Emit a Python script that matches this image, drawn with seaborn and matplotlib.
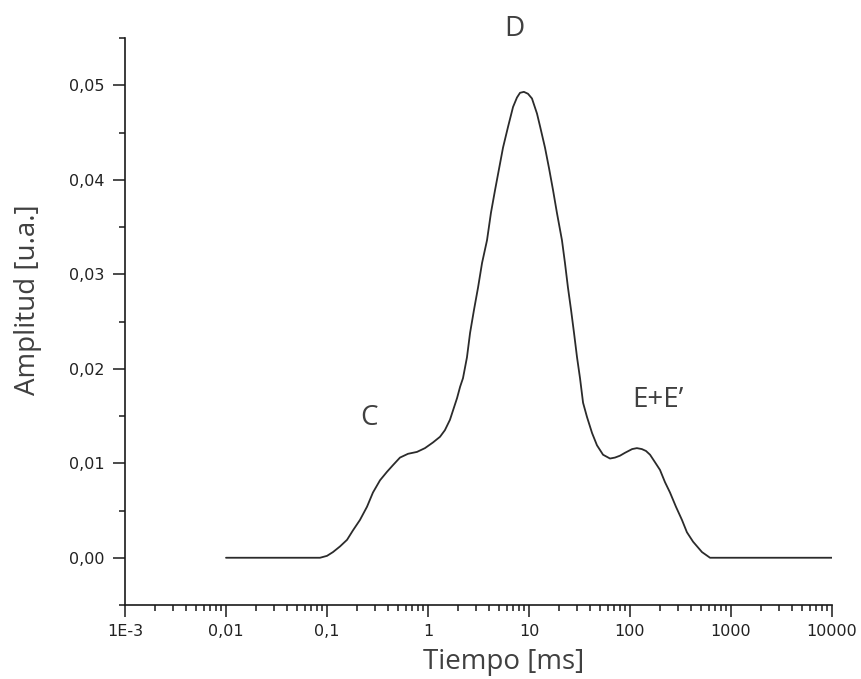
import numpy as np
import pandas as pd
import matplotlib
matplotlib.use("Agg")
import matplotlib.pyplot as plt
from matplotlib.ticker import LogLocator, MultipleLocator, NullFormatter
import seaborn as sns

# ---- data ----
tiempo = [0.01, 0.0853, 0.100, 0.1146, 0.1346, 0.158, 0.1808, 0.212, 0.249, 0.285,
          0.335, 0.393, 0.450, 0.528, 0.634, 0.778, 0.933, 1.12, 1.315, 1.47,
          1.65, 1.77, 1.94, 2.08, 2.22, 2.43, 2.61, 2.85, 3.13, 3.43,
          3.84, 4.2, 4.61, 5.53, 6.2, 6.95, 7.6, 8.15, 8.9, 9.77,
          10.7, 12.0, 12.9, 14.4, 15.8, 17.3, 18.9, 21.2, 22.7, 24.3,
          26.1, 27.9, 29.9, 32.0, 34.3, 37.5, 42.1, 47.1, 54.1, 63.4,
          71, 79.6, 89, 105, 117, 131, 144, 158, 177, 198,
          222, 249, 285, 327, 366, 421, 516, 620, 10000]
amplitud = [0, 0, 0.0002, 0.0006, 0.0012, 0.0019, 0.0029, 0.0040, 0.0054, 0.0069,
            0.0082, 0.0091, 0.0098, 0.0106, 0.0110, 0.0112, 0.0116, 0.0122, 0.0128, 0.0135,
            0.0146, 0.0156, 0.0169, 0.0181, 0.0190, 0.0212, 0.0238, 0.0262, 0.0286, 0.0312,
            0.0336, 0.0365, 0.0389, 0.0434, 0.0456, 0.0477, 0.0487, 0.0492, 0.0493, 0.0491,
            0.0486, 0.0470, 0.0456, 0.0434, 0.0412, 0.0389, 0.0365, 0.0336, 0.0312, 0.0286,
            0.0262, 0.0238, 0.0212, 0.0190, 0.0164, 0.0149, 0.0132, 0.0119, 0.0109, 0.0105,
            0.0106, 0.0108, 0.0111, 0.0115, 0.0116, 0.0115, 0.0113, 0.0109, 0.0101, 0.0093,
            0.0080, 0.0069, 0.0054, 0.0040, 0.0027, 0.0017, 0.0006, 0, 0]

x_ticks = [1e-3, 1e-2, 1e-1, 1, 10, 100, 1000, 10000]
x_tick_labels = ["1E-3", "0,01", "0,1", "1", "10", "100", "1000", "10000"]
y_ticks = [0.00, 0.01, 0.02, 0.03, 0.04, 0.05]
y_tick_labels = ["0,00", "0,01", "0,02", "0,03", "0,04", "0,05"]

peak_names = ["C", "D", "E+E\u2019"]
peak_x = [0.26, 7.1, 189]
peak_y = [0.0148, 0.0560, 0.0167]

df = pd.DataFrame({"Tiempo": tiempo, "Amplitud": amplitud})

sns.set_style("ticks")
plt.rcParams["font.family"] = ["DejaVu Sans"]

fig = plt.figure(figsize=(8.61, 6.79), dpi=100)
ax = fig.add_axes([125 / 861, 1 - 605 / 679, 707 / 861, 567 / 679])

sns.lineplot(data=df, x="Tiempo", y="Amplitud", ax=ax, color="#2b2b2b",
             linewidth=1.3, estimator=None, sort=False)

ax.set_xscale("log")
ax.set_xlim(1e-3, 1e4)
ax.set_ylim(-0.005, 0.055)

ax.set_xticks(x_ticks, x_tick_labels)
ax.xaxis.set_minor_locator(LogLocator(base=10, subs=np.arange(2, 10), numticks=100))
ax.xaxis.set_minor_formatter(NullFormatter())
ax.set_yticks(y_ticks, y_tick_labels)
ax.yaxis.set_minor_locator(MultipleLocator(0.005))

for s in ["top", "right"]:
    ax.spines[s].set_visible(False)
for s in ["left", "bottom"]:
    ax.spines[s].set_linewidth(1.2)
    ax.spines[s].set_color("#1a1a1a")

ax.tick_params(which="major", direction="out", length=8.5, width=1.1,
               color="#1a1a1a", labelsize=11.5, labelcolor="#222222")
ax.tick_params(which="minor", direction="out", length=4.5, width=1.1, color="#1a1a1a")
ax.tick_params(axis="y", which="major", pad=6)
ax.tick_params(axis="x", which="major", pad=5)

label_font = dict(family=["Open Sans", "DejaVu Sans"], size=20, color="#404040")
ax.set_xlabel("Tiempo [ms]", **label_font)
ax.set_ylabel("Amplitud [u.a.]", **label_font)
ax.xaxis.label.set_va("center")
ax.yaxis.label.set_va("center")
ax.xaxis.set_label_coords(0.535, -0.1005)
ax.yaxis.set_label_coords(-0.137, 0.538)

for name, px, py in zip(peak_names, peak_x, peak_y):
    ax.text(px, py, name, ha="center", va="center", clip_on=False, **label_font)

fig.savefig("out.png", dpi=100, facecolor="white")
